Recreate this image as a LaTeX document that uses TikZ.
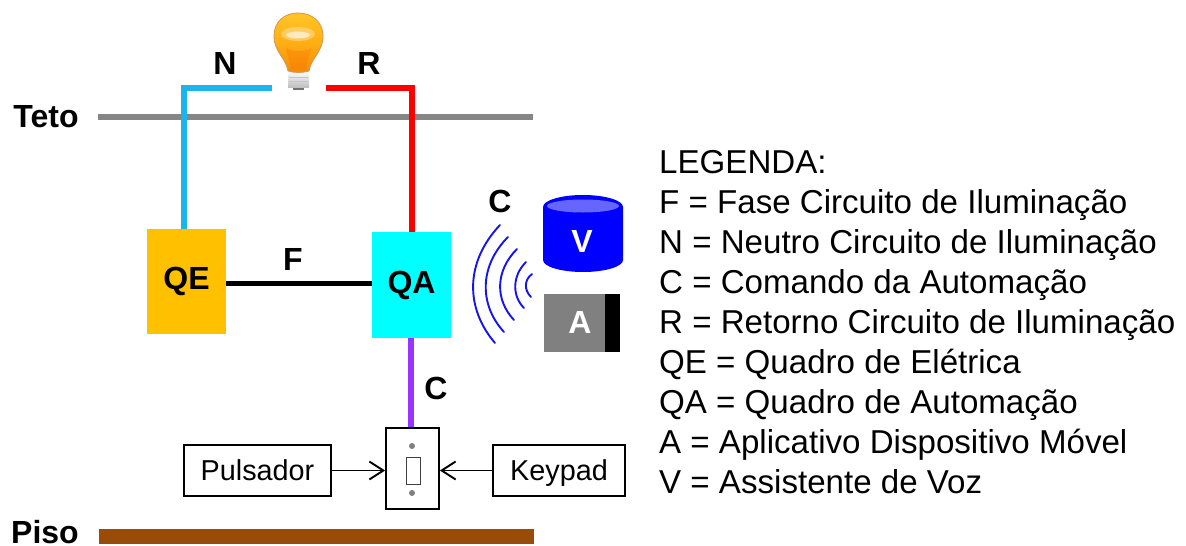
\documentclass[tikz,border=0pt]{standalone}
\usepackage{fontspec}
\setmainfont{Liberation Sans}
\usetikzlibrary{arrows.meta,positioning,calc}
\tikzset{
  lbl/.style={font=\fontsize{32}{34}\selectfont\bfseries,inner sep=0pt,text=black},
  wlbl/.style={font=\fontsize{32}{34}\selectfont\bfseries,inner sep=0pt,text=white},
  tbox/.style={draw=black,line width=1.8pt,fill=white,inner sep=0pt,minimum height=51pt,text height=20.6pt,text depth=0pt,font=\fontsize{28.8}{32}\selectfont},
  wire/.style={line width=#1,line cap=butt,line join=miter},
  wave/.style={draw={rgb,255:red,20;green,20;blue,235},line width=1.9pt,line cap=round},
  feed/.style={line width=1.9pt,-{Straight Barb[length=14pt,width=18pt,line width=1.9pt]}},
}
\definecolor{qeor}{HTML}{FFC000}
\definecolor{qacy}{HTML}{00FFFF}
\definecolor{nblue}{HTML}{1CB4EE}
\definecolor{purp}{HTML}{9933FF}
\definecolor{brownf}{HTML}{974C0A}
\definecolor{vlight}{HTML}{6666FF}
\definecolor{bulbtop}{HTML}{FFC626}
\definecolor{bulbmid}{HTML}{FFAE14}
\definecolor{bulbneck}{HTML}{F08C0A}
\begin{document}
\begin{tikzpicture}[x=1pt,y=-1pt]
\useasboundingbox (0,0) rectangle (1186,546);
% planes
\coordinate (tetoL) at (98,117); \coordinate (tetoR) at (533,117);
\draw[wire=6pt,draw=gray!95] (tetoL) -- (tetoR);
\coordinate (pisoL) at (99,536.5); \coordinate (pisoR) at (534,536.5);
\draw[wire=15pt,draw=brownf] (pisoL) -- (pisoR);
\node[lbl,anchor=center] (teto) at (46,117) {Teto};
\node[lbl,anchor=center] (piso) at (45,532.5) {Piso};
% boxes
\node[minimum width=79pt,minimum height=105pt,fill=qeor,inner sep=0pt,font=\fontsize{32}{34}\selectfont\bfseries] (QE) at (186.5,281.5) {QE};
\node[minimum width=79pt,minimum height=106pt,fill=qacy,inner sep=0pt,font=\fontsize{32}{34}\selectfont\bfseries] (QA) at (411.5,285) {QA};
% wires
\coordinate (nEnd) at (272,88); \coordinate (rEnd) at (326,88);
\coordinate (nTop) at (184,88); \coordinate (rTop) at (412,88);
\draw[wire=6pt,draw=nblue] (nEnd) -- (nTop) -- (nTop |- QE.north);
\draw[wire=6pt,draw=red] (rEnd) -- (rTop) -- (rTop |- QA.north);
\draw[wire=5pt,draw=black] (QE.east |- 0,283) -- (QA.west |- 0,283);
\node[lbl] (N) at (225,63) {N};
\node[lbl] (R) at (369,63) {R};
\node[lbl] (F) at (293,259) {F};
\node[lbl] (C1) at (500,201) {C};
\node[lbl] (C2) at (436,388) {C};
% switch
\node[draw=black,line width=1.8pt,fill=white,minimum width=53pt,minimum height=81pt,inner sep=0pt] (SW) at (412.5,468.5) {};
\node[draw=black!75,line width=1pt,fill=white,minimum width=14pt,minimum height=27pt,inner sep=0pt] (SWin) at (413,470.5) {};
\fill[gray] (412,446) circle (3pt) (412,493) circle (3pt);
\draw[wire=6pt,draw=purp] (QA.south -| 411,0) -- (SW.north -| 411,0);
\node[tbox,minimum width=147pt] (pul) at (257.5,470.5) {Pulsador};
\node[tbox,minimum width=132pt] (key) at (559,470.5) {Keypad};
\draw[feed] (pul.east) -- (SW.west |- pul.east);
\draw[feed] (key.west) -- (SW.east |- key.west);
% waves
\draw[wave] (500,225) .. controls (465,262) and (465,308) .. (495,343);
\draw[wave] (508,237) .. controls (479,266) and (479,305) .. (504,332);
\draw[wave] (517,249) .. controls (495,271) and (495,300) .. (514,320);
\draw[wave] (526,262) .. controls (512,276) and (512,296) .. (524,308);
\draw[wave] (532,274) .. controls (524,280) and (524,290) .. (531,297);
% cylinder V
\fill[blue] (543,207) arc[start angle=180,end angle=0,x radius=40pt,y radius=12pt]
  -- (623,260) arc[start angle=0,end angle=-180,x radius=40pt,y radius=12pt] -- cycle;
\fill[vlight] (583,206) ellipse[x radius=36pt,y radius=6.5pt];
\node[wlbl] (V) at (582,241) {V};
% A device
\node[fill=gray,minimum width=61pt,minimum height=58pt,inner sep=0pt] (A) at (574.5,323) {};
\node[fill=black,minimum width=15pt,minimum height=58pt,inner sep=0pt,right=0pt of A] (Abar) {};
\node[wlbl] (Alab) at (580,322) {A};
% bulb
\fill[black!55] (293,86) rectangle (304,90);
\shade[top color=white,bottom color=gray!50] (288,71) rectangle (309,87);
\draw[gray!45,line width=.6pt] (289,77)--(308,77) (289,81)--(308,81);
\shade[top color=bulbtop,bottom color=bulbneck,middle color=bulbmid,draw=orange!80!black!70,line width=.8pt]
  (288,71) .. controls (286,58) and (274,52) .. (274,36)
  .. controls (274,21) and (285,13) .. (298,13)
  .. controls (311,13) and (323,21) .. (323,36)
  .. controls (323,52) and (311,58) .. (309,71)
  .. controls (302,73) and (295,73) .. (288,71) -- cycle;
\fill[orange!90!red,opacity=.35] (291,70) .. controls (290,60) and (286,53) .. (286,48)
  .. controls (292,52) and (305,52) .. (311,48)
  .. controls (311,53) and (307,60) .. (306,70) -- cycle;
\fill[white,opacity=.3] (298,34) ellipse[x radius=17pt,y radius=7pt];
\fill[white,opacity=.6] (298,35) ellipse[x radius=12pt,y radius=3.5pt];
% legend
\node[anchor=north west,inner sep=0pt,align=left,font=\fontsize{33.1}{40}\selectfont] (leg) at (659,150) {LEGENDA:\\
F = Fase Circuito de Iluminação\\
N = Neutro Circuito de Iluminação\\
C = Comando da Automação\\
R = Retorno Circuito de Iluminação\\
QE = Quadro de Elétrica\\
QA = Quadro de Automação\\
A = Aplicativo Dispositivo Móvel\\
V = Assistente de Voz};
\end{tikzpicture}
\end{document}
